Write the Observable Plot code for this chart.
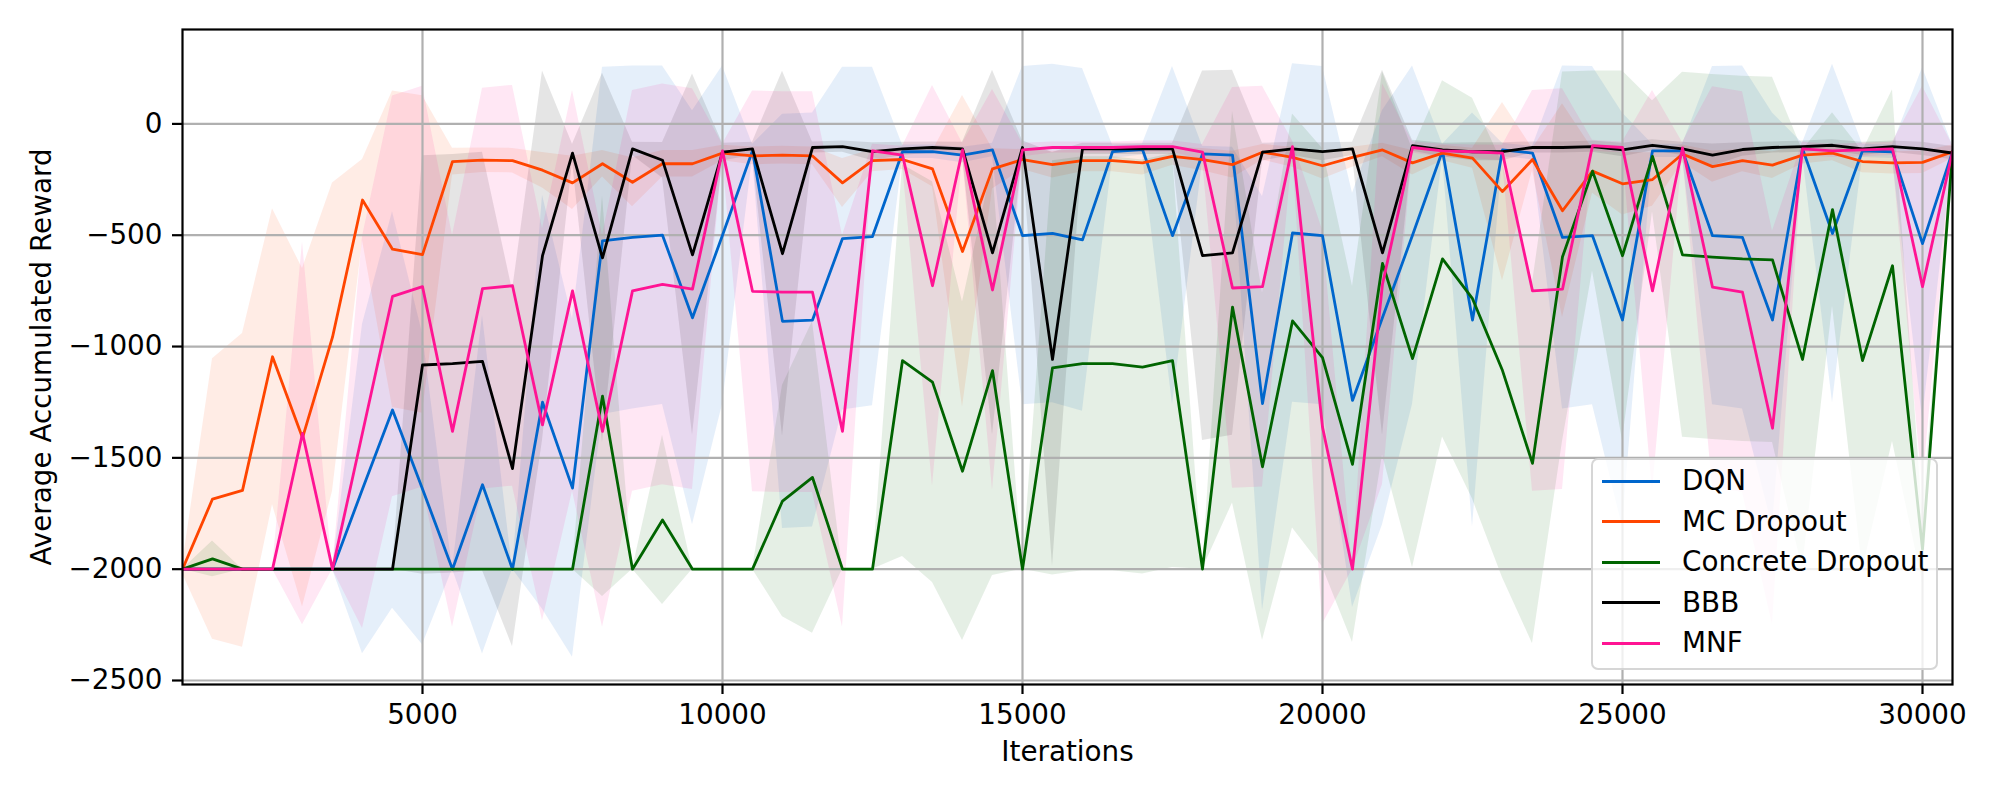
<!DOCTYPE html>
<html><head><meta charset="utf-8">
<script src="https://cdn.jsdelivr.net/npm/d3@7"></script>
<script src="https://cdn.jsdelivr.net/npm/@observablehq/plot@0.6"></script>
<style>
html,body{margin:0;padding:0;background:#fff;}
#wrap{position:relative;width:2000px;height:800px;font-family:"DejaVu Sans",sans-serif;}
#legend{position:absolute;left:1591px;top:458px;width:347px;height:212px;box-sizing:border-box;border:2px solid rgba(204,204,204,0.8);border-radius:7px;background:rgba(255,255,255,0.8);padding-top:1px;}
.row{display:flex;align-items:center;height:40.5px;}
.sw{width:58px;height:2.8px;margin-left:9px;margin-right:22px;}
.lab{font-size:27.8px;line-height:40.5px;color:#000;white-space:nowrap;}
</style></head><body><div id="wrap"></div>
<script>
const iterations = [1000,1500,2000,2500,3000,3500,4000,4500,5000,5500,
  6000,6500,7000,7500,8000,8500,9000,9500,10000,10500,
  11000,11500,12000,12500,13000,13500,14000,14500,15000,15500,
  16000,16500,17000,17500,18000,18500,19000,19500,20000,20500,
  21000,21500,22000,22500,23000,23500,24000,24500,25000,25500,
  26000,26500,27000,27500,28000,28500,29000,29500,30000,30500];

const seriesNames = ["DQN","MC Dropout","Concrete Dropout","BBB","MNF"];
const seriesColors = ["#0066cc","#ff4500","#006400","#000000","#ff1493"];
const xTicks = [5000,10000,15000,20000,25000,30000];
const yTicks = [0,-500,-1000,-1500,-2000,-2500];

const dqnMean = [-2000,-2000,-2000,-2000,-2000,-2000,-1640,-1285,-1640,-2000,
 -1621,-2000,-1250,-1636,-525,-510,-500,-871,-500,-121,
 -887,-881,-515,-506,-125,-125,-140,-117,-502,-492,
 -521,-125,-115,-502,-135,-140,-1256,-490,-502,-1242,
 -870,-500,-121,-881,-117,-131,-510,-502,-881,-121,
 -121,-502,-510,-881,-112,-492,-121,-125,-538,-125];
const dqnStd = [0,0,0,0,0,0,740,890,700,0,
 760,0,930,760,780,770,760,930,760,30,
 930,930,770,760,30,30,35,30,760,760,
 770,30,25,760,35,35,930,760,760,930,
 930,760,30,930,30,30,770,760,930,30,
 30,760,770,930,25,760,30,30,790,30];

const mcMean = [-2000,-1685,-1646,-1046,-1410,-958,-342,-563,-587,-169,
 -163,-165,-208,-265,-179,-262,-179,-179,-131,-144,
 -140,-144,-265,-165,-160,-202,-573,-202,-160,-183,
 -165,-165,-175,-146,-160,-183,-127,-150,-188,-150,
 -117,-175,-131,-154,-304,-160,-390,-212,-269,-250,
 -135,-192,-165,-185,-140,-131,-169,-175,-173,-125];
const mcStd = [20,630,705,665,760,693,182,711,713,60,
 55,55,80,120,60,110,60,60,35,40,
 40,40,110,50,45,80,700,90,45,60,
 50,50,55,40,50,60,35,45,60,45,
 30,55,35,45,400,50,480,100,140,120,
 40,70,50,60,40,35,50,50,50,30];

const cdMean = [-2000,-1954,-2000,-2000,-2000,-2000,-2000,-2000,-2000,-2000,
 -2000,-2000,-2000,-2000,-1223,-2000,-1779,-2000,-2000,-2000,
 -1694,-1588,-2000,-2000,-1063,-1160,-1560,-1108,-2000,-1096,
 -1077,-1077,-1092,-1063,-2000,-823,-1540,-885,-1050,-1529,
 -627,-1054,-606,-785,-1108,-1525,-597,-212,-592,-146,
 -588,-598,-606,-611,-1058,-385,-1063,-637,-1910,-125];
const cdStd = [0,80,0,0,0,0,0,0,0,0,
 0,0,0,0,900,0,380,0,0,0,
 520,700,0,0,880,900,760,920,0,930,
 930,930,930,930,0,880,780,930,940,800,
 860,940,800,900,930,810,830,450,830,250,
 820,820,820,820,940,435,940,790,150,25];

const bbbMean = [-2000,-2000,-2000,-2000,-2000,-2000,-2000,-2000,-1083,-1077,
 -1067,-1548,-592,-131,-602,-112,-163,-588,-127,-112,
 -583,-106,-102,-125,-112,-106,-112,-579,-106,-1058,
 -112,-112,-112,-112,-592,-579,-127,-112,-125,-112,
 -579,-98,-117,-125,-125,-106,-106,-102,-117,-96,
 -112,-140,-115,-106,-102,-96,-112,-102,-112,-131];
const bbbStd = [0,0,0,0,0,0,0,0,940,940,
 940,800,830,40,830,30,80,812,40,30,
 820,25,25,40,30,25,30,820,30,930,
 25,25,25,25,830,820,40,30,40,30,
 820,25,30,40,40,25,25,25,30,25,
 30,50,30,25,25,25,30,25,30,30];

const mnfMean = [-2000,-2000,-2000,-2000,-1390,-2000,-1387,-775,-731,-1381,
 -740,-727,-1352,-750,-1381,-750,-721,-742,-121,-752,
 -756,-756,-1381,-121,-140,-727,-117,-746,-117,-106,
 -106,-106,-102,-102,-127,-737,-731,-102,-1362,-2000,
 -720,-106,-121,-125,-131,-750,-742,-98,-106,-750,
 -108,-733,-756,-1367,-112,-121,-117,-112,-731,-125];
const mnfStd = [0,0,0,0,860,0,880,900,900,880,
 900,900,880,900,880,900,900,900,30,900,
 900,900,880,30,40,900,30,900,30,25,
 25,25,25,25,35,900,900,25,885,0,
 900,25,30,30,35,900,900,25,25,900,
 25,900,900,885,30,30,30,30,900,30];

const means = [dqnMean, mcMean, cdMean, bbbMean, mnfMean];
const stds = [dqnStd, mcStd, cdStd, bbbStd, mnfStd];

const rows = [];
seriesNames.forEach((s, i) => {
  iterations.forEach((x, j) => {
    rows.push({series: s, x, mean: means[i][j], lo: means[i][j] - stds[i][j], hi: means[i][j] + stds[i][j]});
  });
});

const fmtY = d => d === 0 ? "0" : (d < 0 ? "\u2212" + Math.abs(d) : String(d));

const chart = Plot.plot({
  width: 2000, height: 800,
  marginLeft: 182, marginRight: 48, marginTop: 29, marginBottom: 116,
  style: {fontFamily: "DejaVu Sans", fontSize: "27.8px", background: "white", color: "black"},
  x: {domain: [1000, 30500]},
  y: {domain: [-2518, 424]},
  color: {domain: seriesNames, range: seriesColors},
  marks: [
    Plot.areaY(rows, {x: "x", y1: "lo", y2: "hi", z: "series", fill: "series", fillOpacity: 0.1, clip: true}),
    Plot.gridX(xTicks, {stroke: "#b0b0b0", strokeOpacity: 1, strokeWidth: 2.2}),
    Plot.gridY(yTicks, {stroke: "#b0b0b0", strokeOpacity: 1, strokeWidth: 2.2}),
    Plot.lineY(rows, {x: "x", y: "mean", z: "series", stroke: "series", strokeWidth: 2.8, clip: true}),
    Plot.frame({stroke: "black", strokeWidth: 2.2}),
    Plot.axisX(xTicks, {tickSize: 10, tickPadding: 10, tickFormat: d => String(d), label: null, strokeWidth: 2.2, fontSize: 27.8}),
    Plot.axisY(yTicks, {tickSize: 10, tickPadding: 10, tickFormat: fmtY, label: null, strokeWidth: 2.2, fontSize: 27.8}),
    Plot.text(["Iterations"], {text: d => d, frameAnchor: "bottom", dy: 68, lineAnchor: "middle", fontSize: 27.8}),
    Plot.text(["Average Accumulated Reward"], {text: d => d, frameAnchor: "left", dx: -140, rotate: -90, lineAnchor: "middle", textAnchor: "middle", fontSize: 27.8})
  ]
});

const wrap = document.getElementById("wrap");
wrap.appendChild(chart);

const legend = document.createElement("div");
legend.id = "legend";
seriesNames.forEach((s, i) => {
  const row = document.createElement("div");
  row.className = "row";
  const sw = document.createElement("div");
  sw.className = "sw";
  sw.style.background = seriesColors[i];
  const lab = document.createElement("span");
  lab.className = "lab";
  lab.textContent = s;
  row.appendChild(sw); row.appendChild(lab);
  legend.appendChild(row);
});
wrap.appendChild(legend);
</script></body></html>
